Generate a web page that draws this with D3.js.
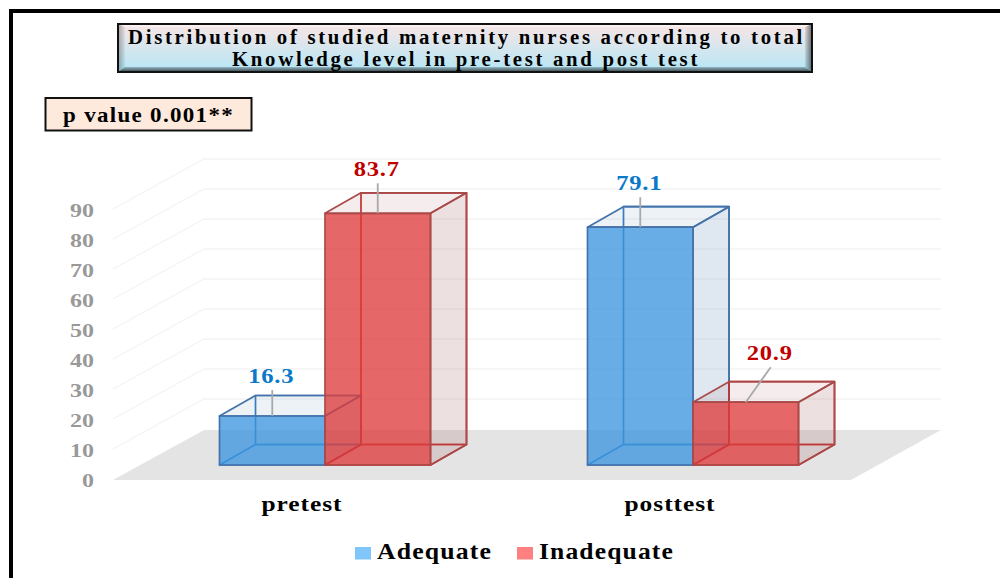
<!DOCTYPE html>
<html>
<head>
<meta charset="utf-8">
<script src="https://cdn.jsdelivr.net/npm/d3@7"></script>
<style>
  html, body { margin: 0; padding: 0; background: #fff; }
  svg { display: block; }
  text { font-family: "Liberation Serif", serif; font-weight: bold; }
</style>
</head>
<body>
<script>
const categories = ['pretest', 'posttest']
const seriesNames = ['Adequate', 'Inadequate']
const adequate = [16.3, 79.1]
const inadequate = [83.7, 20.9]
const yTicks = [0, 10, 20, 30, 40, 50, 60, 70, 80, 90]
const titleLines = ['Distribution of studied maternity nurses according to total', 'Knowledge level in pre-test and post test']
const pValue = 'p value 0.001**'

const width = 1000
const height = 578

const svg = d3.select('body')
  .append('svg')
  .attr('width', width)
  .attr('height', height)

const defs = svg.append('defs')

function grad (id, stops, horizontal) {
  const g = defs.append('linearGradient').attr('id', id)
    .attr('x1', 0).attr('y1', 0)
    .attr('x2', horizontal ? 1 : 0).attr('y2', horizontal ? 0 : 1)
  stops.forEach((c, i) => {
    g.append('stop').attr('offset', i / (stops.length - 1)).attr('stop-color', c[0]).attr('stop-opacity', c[1])
  })
}
grad('titleBody', [['#f8e6e6', 1], ['#b4e6f6', 1]])
grad('bevelLeft', [['#000', 0.3], ['#000', 0.04]], true)
grad('bevelRight', [['#000', 0.08], ['#000', 0.55]], true)
grad('bevelBottom', [['#000', 0.2], ['#000', 0.72]])

// page frame, only top and left show
svg.append('path')
  .attr('d', 'M11,578V11H1000')
  .attr('fill', 'none')
  .attr('stroke', '#000')
  .attr('stroke-width', 4)

/* ------- TITLE BOX -------*/
const tb = { x: 118, y: 24, w: 694, h: 48, t: 3, l: 7, r: 7, b: 5 }
const title = svg.append('g')
title.append('rect')
  .attr('x', tb.x).attr('y', tb.y).attr('width', tb.w).attr('height', tb.h)
  .attr('fill', 'url(#titleBody)')
const bevels = [
  { fill: '#fff', opacity: 0.45, pts: [[tb.x, tb.y], [tb.x + tb.w, tb.y], [tb.x + tb.w - tb.r, tb.y + tb.t], [tb.x + tb.l, tb.y + tb.t]] },
  { fill: 'url(#bevelLeft)', opacity: 1, pts: [[tb.x, tb.y], [tb.x + tb.l, tb.y + tb.t], [tb.x + tb.l, tb.y + tb.h - tb.b], [tb.x, tb.y + tb.h]] },
  { fill: 'url(#bevelRight)', opacity: 1, pts: [[tb.x + tb.w, tb.y], [tb.x + tb.w - tb.r, tb.y + tb.t], [tb.x + tb.w - tb.r, tb.y + tb.h - tb.b], [tb.x + tb.w, tb.y + tb.h]] },
  { fill: 'url(#bevelBottom)', opacity: 1, pts: [[tb.x, tb.y + tb.h], [tb.x + tb.l, tb.y + tb.h - tb.b], [tb.x + tb.w - tb.r, tb.y + tb.h - tb.b], [tb.x + tb.w, tb.y + tb.h]] }
]
title.selectAll('polygon').data(bevels).enter().append('polygon')
  .attr('points', d => d.pts.join(' '))
  .attr('fill', d => d.fill)
  .attr('fill-opacity', d => d.opacity)
title.append('rect')
  .attr('x', tb.x).attr('y', tb.y).attr('width', tb.w).attr('height', tb.h)
  .attr('fill', 'none').attr('stroke', '#111').attr('stroke-width', 2)
title.selectAll('text').data(titleLines).enter().append('text')
  .attr('x', (d, i) => [128, 232][i])
  .attr('y', (d, i) => [44, 66][i])
  .attr('textLength', (d, i) => [677, 468][i])
  .attr('lengthAdjust', 'spacingAndGlyphs')
  .attr('font-size', 20)
  .attr('letter-spacing', 2.6)
  .attr('fill', '#000')
  .text(d => d)

/* ------- P VALUE BOX -------*/
svg.append('rect')
  .attr('x', 45.5).attr('y', 98).attr('width', 206).attr('height', 32.5)
  .attr('fill', '#fdeadc').attr('stroke', '#111').attr('stroke-width', 2)
svg.append('text')
  .attr('x', 63).attr('y', 121.5)
  .attr('textLength', 171)
  .attr('lengthAdjust', 'spacingAndGlyphs')
  .attr('font-size', 21)
  .attr('letter-spacing', 1.2)
  .text(pValue)

/* ------- SCALES -------*/
const floor = { x0: 113, x1: 851, y: 480, dx: 91, dy: -50 }
const barDepth = { dx: 36, dy: -20.5 }
const barBase = 465

const yHeight = d3.scaleLinear().domain([0, 90]).range([0, 270.6])
const yFront = d3.scaleLinear().domain([0, 90]).range([floor.y, floor.y - 270])
const xCat = d3.scalePoint().domain(categories).range([325, 693])
const xSeries = d3.scaleBand().domain(seriesNames).range([-105.5, 105.5])
const barW = xSeries.bandwidth()

/* ------- FLOOR AND WALLS -------*/
svg.append('polygon')
  .attr('points', [[floor.x0, floor.y], [floor.x1, floor.y], [floor.x1 + floor.dx - 1, floor.y + floor.dy], [floor.x0 + floor.dx, floor.y + floor.dy]].join(' '))
  .attr('fill', '#e4e4e4')

svg.append('g').selectAll('polyline')
  .data(yTicks.filter(d => d > 0))
  .enter().append('polyline')
  .attr('points', d => {
    const y = yFront(d) - 1
    return [[floor.x0, y], [floor.x0 + floor.dx, y + floor.dy], [floor.x1 + floor.dx - 1, y + floor.dy]].join(' ')
  })
  .attr('fill', 'none')
  .attr('stroke', '#f4f4f4')
  .attr('stroke-width', 1.3)

const yAxis = svg.append('g')
  .attr('transform', 'translate(102,1)')
  .call(d3.axisLeft(yFront).tickValues(yTicks).tickSize(0).tickPadding(8))
yAxis.select('.domain').remove()
yAxis.selectAll('text')
  .attr('font-size', 18)
  .attr('font-family', '"Liberation Serif", serif')
  .attr('fill', '#999')
  .attr('textLength', d => String(d).length * 12)
  .attr('lengthAdjust', 'spacingAndGlyphs')

// category labels sit left of the bar pair in the reference
const xAxis = svg.append('g')
  .attr('transform', 'translate(-23.5,0)')
  .call(d3.axisBottom(xCat).tickSize(0).tickPadding(0))
xAxis.select('.domain').remove()
xAxis.selectAll('text')
  .attr('y', 511)
  .attr('dy', 0)
  .attr('font-size', 21.5)
  .attr('font-family', '"Liberation Serif", serif')
  .attr('letter-spacing', 0.8)
  .attr('fill', '#000')
  .attr('textLength', d => (d === 'pretest' ? 81 : 91))
  .attr('lengthAdjust', 'spacingAndGlyphs')

/* ------- BARS -------*/
const styles = {
  Adequate: { front: 'rgba(62,150,222,0.78)', side: 'rgba(110,150,190,0.22)', top: 'rgba(110,150,190,0.12)', stroke: '#4572a8', inner: '#2f7cc4', label: '#0b78c8' },
  Inadequate: { front: 'rgba(222,60,60,0.78)', side: 'rgba(165,100,100,0.2)', top: 'rgba(165,90,90,0.11)', stroke: '#a94a4a', inner: '#c62d2d', label: '#c00000' }
}

const barData = []
seriesNames.forEach((s, si) => {
  const values = si === 0 ? adequate : inadequate
  categories.forEach((c, ci) => {
    barData.push({ series: s, category: c, value: values[ci] })
  })
})

const bars = svg.append('g').selectAll('g')
  .data(barData)
  .enter().append('g')

bars.each(function (d) {
  const g = d3.select(this)
  const st = styles[d.series]
  const x0 = xCat(d.category) + xSeries(d.series)
  const x1 = x0 + barW
  const yt = barBase - yHeight(d.value)
  const dx = barDepth.dx
  const dy = barDepth.dy
  const face = (pts, fill, stroke) => g.append('polygon')
    .attr('points', pts.join(' '))
    .attr('fill', fill)
    .attr('stroke', stroke)
    .attr('stroke-width', 1.7)
    .attr('stroke-linejoin', 'round')

  // back and floor faces are outline only, they show through the front
  face([[x0 + dx, yt + dy], [x1 + dx, yt + dy], [x1 + dx, barBase + dy], [x0 + dx, barBase + dy]], 'none', st.inner)
  face([[x0, barBase], [x1, barBase], [x1 + dx, barBase + dy], [x0 + dx, barBase + dy]], 'none', st.inner)
  face([[x1, yt], [x1 + dx, yt + dy], [x1 + dx, barBase + dy], [x1, barBase]], st.side, st.stroke)
  face([[x0, yt], [x1, yt], [x1 + dx, yt + dy], [x0 + dx, yt + dy]], st.top, st.stroke)
  face([[x0, yt], [x1, yt], [x1, barBase], [x0, barBase]], st.front, st.stroke)
})

/* ------- DATA LABELS AND LEADERS -------*/
// leader end relative to the top of the front face
function leaderOffset (d) {
  if (d.value === 20.9) return [25, -35]
  if (d.value === 16.3) return [0, -26]
  return [0, -30]
}

const labels = svg.append('g').selectAll('g')
  .data(barData)
  .enter().append('g')
  .attr('transform', d => `translate(${xCat(d.category) + xSeries(d.series) + barW / 2},${barBase - yHeight(d.value)})`)

labels.append('line')
  .attr('x1', 0).attr('y1', 0)
  .attr('x2', d => leaderOffset(d)[0])
  .attr('y2', d => leaderOffset(d)[1])
  .attr('stroke', '#a9a9a9')
  .attr('stroke-width', 1.8)

labels.append('text')
  .attr('x', d => leaderOffset(d)[0] - 1)
  .attr('y', d => leaderOffset(d)[1] - 7)
  .attr('text-anchor', 'middle')
  .attr('font-size', 20)
  .attr('letter-spacing', 0.6)
  .attr('textLength', 46)
  .attr('lengthAdjust', 'spacingAndGlyphs')
  .attr('fill', d => styles[d.series].label)
  .text(d => d.value)

/* ------- LEGEND -------*/
const legendColor = d3.scaleOrdinal().domain(seriesNames).range(['#80c6fb', '#ff8080'])
const legendX = d3.scaleOrdinal().domain(seriesNames).range([355, 517])
const legendLen = d3.scaleOrdinal().domain(seriesNames).range([115, 135])

const legend = svg.append('g').selectAll('g')
  .data(seriesNames)
  .enter().append('g')
  .attr('transform', d => `translate(${legendX(d)},0)`)

legend.append('rect')
  .attr('x', 0).attr('y', 547)
  .attr('width', 16).attr('height', 12.5)
  .attr('fill', d => legendColor(d))

legend.append('text')
  .attr('x', 22).attr('y', 559)
  .attr('textLength', d => legendLen(d))
  .attr('lengthAdjust', 'spacingAndGlyphs')
  .attr('font-size', 22.5)
  .attr('letter-spacing', 1)
  .attr('fill', '#000')
  .text(d => d)
</script>
</body>
</html>
